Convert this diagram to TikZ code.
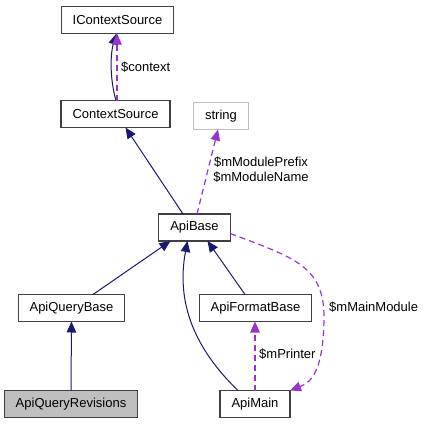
\documentclass[tikz,border=0pt]{standalone}
\usepackage{fontspec}
\setmainfont{Liberation Sans}
\usetikzlibrary{arrows.meta}
\definecolor{inhblue}{RGB}{25,25,112}
\definecolor{usepurple}{RGB}{154,50,205}
\definecolor{boxgray}{RGB}{64,64,64}
\definecolor{softgray}{RGB}{191,191,191}
\begin{document}
\begin{tikzpicture}[x=1pt,y=-1pt,>={Triangle[length=11pt,width=9.5pt]}]
\tikzstyle{cls}=[draw=boxgray,line width=1.1pt,fill=white,inner xsep=11.5pt,inner ysep=0pt,minimum height=27pt,outer sep=0pt,font=\fontsize{13}{15}\selectfont]
\tikzstyle{inh}=[->,draw=inhblue,line width=1pt]
\tikzstyle{usage}=[->,draw=usepurple,line width=1.2pt,dash pattern=on 6pt off 4pt]
\tikzstyle{lbl}=[inner sep=0pt,font=\fontsize{13}{15}\selectfont]
\useasboundingbox (0,0) rectangle (424,424);
% classes
\node[cls] (ictx) at (117.5,20) {IContextSource};
\node[cls] (ctx) at (115.5,114) {ContextSource};
\node[cls,draw=softgray] (str) at (221,116) {string};
\node[cls] (base) at (194.5,227.5) {ApiBase};
\node[cls] (qbase) at (71.5,308) {ApiQueryBase};
\node[cls] (fbase) at (255.5,308) {ApiFormatBase};
\node[cls,fill=softgray] (qrev) at (71,404) {ApiQueryRevisions};
\node[cls] (main) at (255,404) {ApiMain};
% inheritance
\draw[inh] ([xshift=0.5pt]ctx.north) .. controls (110,80) and (110,55) .. ([xshift=-1pt]ictx.south);
\draw[inh] ([xshift=-11.5pt]base.north) -- ([xshift=10pt]ctx.south);
\draw[inh] ([xshift=21.5pt]qbase.north) -- ([xshift=-24pt]base.south);
\draw[inh] ([xshift=-10.5pt]fbase.north) -- ([xshift=13pt]base.south);
\draw[inh] ([xshift=-17pt]main.north) .. controls (194,348) and (176,302) .. ([xshift=-7pt]base.south);
\draw[inh] (qrev.north) -- (qbase.south);
% usage
\draw[usage] ([xshift=1.5pt]ctx.north) -- ([xshift=-0.5pt]ictx.south);
\node[lbl,anchor=west] (lctx) at (121,67) {\$context};
\draw[usage] ([xshift=2.5pt]base.north) -- ([xshift=-3pt]str.south);
\node[lbl,align=center] (lmod) at (261,170) {\$mModulePrefix\\\$mModuleName};
\draw[usage] (main.north) -- ([xshift=-0.5pt]fbase.south);
\node[lbl,anchor=west] (lprn) at (259,354) {\$mPrinter};
\draw[usage] ([yshift=-6pt]base.east) .. controls (295,258) and (325,266) .. (324,320) .. controls (323,370) and (312,382) .. (main.north east);
\node[lbl,anchor=west] (lmain) at (329,307) {\$mMainModule};
\end{tikzpicture}
\end{document}
